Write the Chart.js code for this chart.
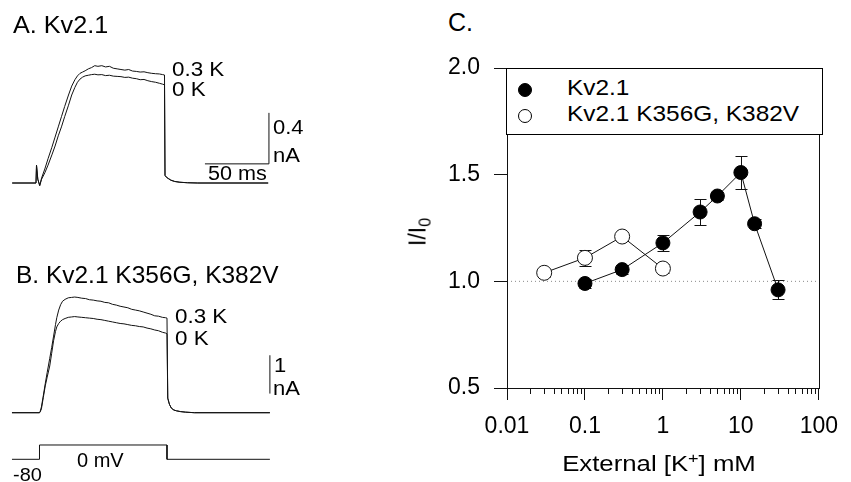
<!DOCTYPE html>
<html>
<head>
<meta charset="utf-8">
<script src="https://cdn.jsdelivr.net/npm/chart.js@4.4.1/dist/chart.umd.min.js"></script>
<style>
  body{margin:0;background:#fff;font-family:"Liberation Sans",Arial,sans-serif;color:#000}
  #wrap{position:relative;width:851px;height:482px;overflow:hidden;background:#fff}
  canvas{position:absolute}
  .lbl{position:absolute;white-space:nowrap;line-height:1;transform-origin:0 0}
  .lbl sup{font-size:0.7em;vertical-align:0.55em;line-height:0}
  .lbl sub{font-size:0.7em;vertical-align:-0.3em;line-height:0}
  #legC{position:absolute;left:506px;top:68px;width:315px;height:65px;border:1px solid #000;background:#fff}
  .dot{position:absolute;width:14px;height:14px;border-radius:50%;box-sizing:border-box;border:1px solid #000}
</style>
</head>
<body>
<div id="wrap">
  <canvas id="cA" width="300" height="200" style="left:0;top:0"></canvas>
  <canvas id="cB" width="300" height="202" style="left:0;top:280px"></canvas>
  <canvas id="cC" width="431" height="442" style="left:420px;top:40px"></canvas>
  <div id="legC">
    <div class="dot" style="left:11px;top:14px;background:#000"></div>
    <div class="dot" style="left:11px;top:40px;background:#fff"></div>
  </div>
</div>
<script>
// ---- A. Kv2.1 : current traces (ms after step onset, nA)
const timeA = [-19, -0.4, 0, 0.2, 1, 2.5, 4, 6.5, 9, 12, 14.5, 17, 19.5, 22, 25, 27.5, 30, 32, 34, 36,
  38, 40.5, 43, 45.5, 48, 51, 54, 57, 60, 63, 66, 69, 72, 75, 78, 81, 84, 87, 90, 93,
  96, 98.5, 100, 100.4, 101.5, 103, 105, 108, 112, 118, 126, 181];
const currA_03K = [0, 0, 0.14, 0.14, 0.03, -0.02, 0.04, 0.11, 0.19, 0.28, 0.36, 0.44, 0.52, 0.60, 0.69, 0.76, 0.81, 0.84, 0.86, 0.87,
  0.88, 0.895, 0.905, 0.92, 0.915, 0.92, 0.91, 0.915, 0.90, 0.895, 0.89, 0.885, 0.89, 0.878, 0.875, 0.87, 0.872, 0.865, 0.86, 0.857,
  0.855, 0.85, 0.847, 0.06, 0.045, 0.035, 0.022, 0.012, 0.006, 0.002, 0, 0];
const currA_0K = [0, 0, 0.14, 0.14, 0.03, -0.02, 0.03, 0.08, 0.14, 0.22, 0.29, 0.37, 0.44, 0.52, 0.61, 0.69, 0.75, 0.79, 0.815, 0.83,
  0.84, 0.845, 0.85, 0.853, 0.848, 0.85, 0.842, 0.845, 0.838, 0.836, 0.834, 0.828, 0.83, 0.822, 0.818, 0.81, 0.812, 0.802, 0.795, 0.79,
  0.782, 0.775, 0.77, 0.06, 0.045, 0.035, 0.022, 0.012, 0.006, 0.002, 0, 0];
const scaleBarA = [50, 0.4];          // ms, nA
const scaleBarCornerA = [181.6, 0.15];

// ---- B. Kv2.1 K356G, K382V
const timeB = [-21.5, 0, 0.5, 1.5, 3, 4.5, 6, 8, 9.5, 11, 12.5, 13.5, 15, 16.5, 18, 20, 22.5, 25, 27.5, 30,
  33, 36, 39, 42, 45, 48, 51, 54, 57, 60, 63, 66, 69, 72, 75, 78, 81, 84, 87, 90,
  93, 96, 98.5, 99.6, 100.2, 101.5, 103, 105, 107, 110, 114, 121, 180];
const currB_03K = [0, 0, 0.03, 0.15, 0.45, 0.76, 1.05, 1.42, 1.70, 2.0, 2.30, 2.48, 2.68, 2.82, 2.91, 2.96, 3.0, 3.01, 3.02, 3.01,
  2.99, 2.98, 2.95, 2.94, 2.92, 2.91, 2.88, 2.87, 2.83, 2.81, 2.78, 2.76, 2.74, 2.70, 2.68, 2.66, 2.63, 2.60, 2.57, 2.53,
  2.52, 2.49, 2.48, 2.47, 0.38, 0.22, 0.12, 0.07, 0.05, 0.03, 0.015, 0, 0];
const currB_0K = [0, 0, 0.02, 0.10, 0.40, 0.70, 0.93, 1.22, 1.55, 1.88, 2.12, 2.24, 2.33, 2.39, 2.43, 2.46, 2.49, 2.50, 2.51, 2.50,
  2.49, 2.48, 2.47, 2.46, 2.44, 2.43, 2.41, 2.39, 2.37, 2.35, 2.33, 2.32, 2.30, 2.28, 2.27, 2.25, 2.24, 2.21, 2.19, 2.16,
  2.14, 2.10, 2.08, 2.06, 0.38, 0.22, 0.12, 0.07, 0.05, 0.03, 0.015, 0, 0];
const scaleBarB = [1];                // nA
const scaleBarBaseB = [180, 0.5];
const protoTime = [-21.5, 0, 0, 99.6, 99.6, 180];
const protoVolt = [-80, -80, 0, 0, -80, -80];

// ---- C. I/I0 vs external [K+]
const kvConc  = [0.1, 0.3, 1, 3, 5, 10, 15, 30];
const kvRatio = [0.99, 1.055, 1.18, 1.325, 1.40, 1.51, 1.27, 0.96];
const kvErr   = [0.02, 0.02, 0.037, 0.06, 0.02, 0.077, 0.02, 0.045];
const mutConc  = [0.03, 0.1, 0.3, 1];
const mutRatio = [1.04, 1.11, 1.21, 1.06];
const mutErr   = [0.02, 0.036, 0.02, 0.02];
const xTicksC = [0.01, 0.1, 1, 10, 100];
const yTicksC = [0.5, 1.0, 1.5, 2.0];
const refLineY = 1.0;

const FONT = '"Liberation Sans", Arial, sans-serif';
const INK = '#111';
const xy = (xs, ys) => xs.map((x, i) => ({x, y: ys[i]}));

function trace(xs, ys, extra){
  return Object.assign({data: xy(xs, ys), showLine: true, pointRadius: 0, borderColor: INK, borderWidth: 1, tension: 0}, extra || {});
}

function hiddenOpts(x0, x1, y0, y1, extraScales){
  return {
    responsive: false, animation: false, events: [],
    layout: {autoPadding: false, padding: 0},
    plugins: {legend: {display: false}, tooltip: {enabled: false}},
    scales: Object.assign({
      x: {type: 'linear', display: false, min: x0, max: x1},
      y: {type: 'linear', display: false, min: y0, max: y1}
    }, extraScales || {})
  };
}

// panel A
const [barMsA, barNaA] = scaleBarA;
new Chart('cA', {
  type: 'scatter',
  data: {datasets: [
    trace(timeA, currA_03K),
    trace(timeA, currA_0K),
    trace([scaleBarCornerA[0] - barMsA, scaleBarCornerA[0], scaleBarCornerA[0]],
          [scaleBarCornerA[1], scaleBarCornerA[1], scaleBarCornerA[1] + barNaA])
  ]},
  options: hiddenOpts(-28.52, 205.86, -0.1333, 1.435)
});

// panel B
new Chart('cB', {
  type: 'scatter',
  data: {datasets: [
    trace(timeB, currB_03K),
    trace(timeB, currB_0K),
    trace([scaleBarBaseB[0], scaleBarBaseB[0]], [scaleBarBaseB[1], scaleBarBaseB[1] + scaleBarB[0]]),
    trace(protoTime, protoVolt, {yAxisID: 'yV'})
  ]},
  options: hiddenOpts(-30.86, 203.52, -1.809, 3.465, {yV: {type: 'linear', display: false, min: -207, max: 923.1}})
});

// panel C
const isDecade = v => Math.abs(Math.log10(v) - Math.round(Math.log10(v))) < 1e-6;

const frame = {
  id: 'frame',
  afterDraw(chart){
    const {ctx, chartArea: a, scales: {x}} = chart;
    ctx.save();
    ctx.strokeStyle = INK; ctx.lineWidth = 1;
    ctx.strokeRect(Math.round(a.left) + 0.5, Math.round(a.top) + 0.5, Math.round(a.right - a.left), Math.round(a.bottom - a.top));
    // short minor ticks on the log axis
    ctx.beginPath();
    x.ticks.forEach(t => {
      if (isDecade(t.value)) return;
      const px = Math.round(x.getPixelForValue(t.value)) + 0.5;
      ctx.moveTo(px, a.bottom); ctx.lineTo(px, a.bottom + 6);
    });
    ctx.stroke();
    ctx.restore();
  }
};

const errorBars = {
  id: 'errorBars',
  beforeDatasetsDraw(chart){
    const {ctx, scales: {x, y}} = chart;
    ctx.save();
    ctx.strokeStyle = INK; ctx.lineWidth = 1;
    ctx.beginPath();
    [[kvConc, kvRatio, kvErr], [mutConc, mutRatio, mutErr]].forEach(([cs, rs, es]) => {
      cs.forEach((c, i) => {
        const px = Math.round(x.getPixelForValue(c)) + 0.5;
        const top = Math.round(y.getPixelForValue(rs[i] + es[i])) + 0.5;
        const bot = Math.round(y.getPixelForValue(rs[i] - es[i])) + 0.5;
        ctx.moveTo(px, top); ctx.lineTo(px, bot);
        ctx.moveTo(px - 6, top); ctx.lineTo(px + 6, top);
        ctx.moveTo(px - 6, bot); ctx.lineTo(px + 6, bot);
      });
    });
    ctx.stroke();
    ctx.restore();
  }
};

const minorVals = [];
for (let e = -2; e < 2; e++) for (let m = 1; m <= 9; m++) minorVals.push(Number((m * Math.pow(10, e)).toPrecision(3)));
minorVals.push(100);

new Chart('cC', {
  type: 'scatter',
  data: {datasets: [
    {label: 'Kv2.1 K356G, K382V', data: xy(mutConc, mutRatio), showLine: true, borderColor: INK, borderWidth: 1,
     pointRadius: 7.5, pointBackgroundColor: '#fff', pointBorderColor: INK, pointBorderWidth: 1},
    {label: 'Kv2.1', data: xy(kvConc, kvRatio), showLine: true, borderColor: INK, borderWidth: 1,
     pointRadius: 7, pointBackgroundColor: '#000', pointBorderColor: '#000', pointBorderWidth: 1},
    {label: 'ref', data: xy([xTicksC[0], xTicksC[xTicksC.length - 1]], [refLineY, refLineY]), showLine: true,
     borderColor: '#888', borderWidth: 1, borderDash: [1, 3], pointRadius: 0}
  ]},
  options: {
    responsive: false, animation: false, events: [],
    layout: {autoPadding: false, padding: {left: 0, top: 28, right: 22, bottom: 0}},
    plugins: {legend: {display: false}, tooltip: {enabled: false}},
    scales: {
      x: {
        type: 'logarithmic', min: xTicksC[0], max: xTicksC[xTicksC.length - 1],
        afterBuildTicks: s => { s.ticks = minorVals.map(v => ({value: v, major: isDecade(v)})); },
        afterFit: s => { s.height = 94; },
        border: {display: false},
        grid: {drawOnChartArea: false, drawTicks: true, tickLength: 12,
               tickColor: c => (c.tick && isDecade(c.tick.value)) ? INK : 'rgba(0,0,0,0)'},
        ticks: {autoSkip: false, maxRotation: 0, padding: 13, color: '#000', font: {family: FONT, size: 23},
                callback: v => xTicksC.some(t => Math.abs(t - v) < 1e-9) ? String(v) : ''}
      },
      y: {
        type: 'linear', min: yTicksC[0], max: yTicksC[yTicksC.length - 1],
        afterBuildTicks: s => { s.ticks = yTicksC.map(v => ({value: v})); },
        afterFit: s => { s.width = 87; },
        border: {display: false},
        grid: {drawOnChartArea: false, drawTicks: true, tickLength: 13, tickColor: INK},
        ticks: {padding: 14, color: '#000', font: {family: FONT, size: 23}, callback: v => Number(v).toFixed(1)}
      }
    }
  },
  plugins: [errorBars, frame]
});

// ---- text (x = left edge, base = baseline, sx = horizontal stretch)
const wrap = document.getElementById('wrap');
function label(html, x, base, size, sx, style){
  const d = document.createElement('div');
  d.className = 'lbl';
  d.innerHTML = html;
  d.style.left = x + 'px';
  d.style.top = (base - 0.8465 * size) + 'px';
  d.style.fontSize = size + 'px';
  if (sx && sx !== 1) d.style.transform = `scaleX(${sx})`;
  if (style) Object.assign(d.style, style);
  wrap.appendChild(d);
  return d;
}
label('A. Kv2.1', 13, 33, 24, 1.05);
label('0.3 K', 172, 75.5, 20, 1.12);
label('0 K', 172, 95.5, 20, 1.12);
label('0.4', 273, 133.5, 20, 1.1);
label('nA', 273, 161.7, 20, 1.1);
label('50 ms', 208, 180, 20, 1.08);

label('B. Kv2.1 K356G, K382V', 16, 283.3, 24, 1.02);
label('0.3 K', 175, 323.3, 20, 1.12);
label('0 K', 175, 345, 20, 1.12);
label('1', 274, 371.7, 20, 1.1);
label('nA', 273, 395, 20, 1.1);
label('0 mV', 77, 467, 20);
label('-80', 13, 481, 19, 1.05);

label('C.', 448, 31.5, 25);
label('Kv2.1', 567, 96, 22, 1.11);
label('Kv2.1 K356G, K382V', 567, 121.7, 22, 1.11);
label('External [K<sup>+</sup>] mM', 659, 472, 22, 1,
  {transform: 'translateX(-50%) scaleX(1.17)', transformOrigin: '50% 50%'});
const yt = label('I/I<sub>0</sub>', 418, 0, 23, 1,
  {transform: 'translate(-50%,-50%) rotate(-90deg)', transformOrigin: '50% 50%'});
yt.style.top = '232px';
</script>
</body>
</html>
